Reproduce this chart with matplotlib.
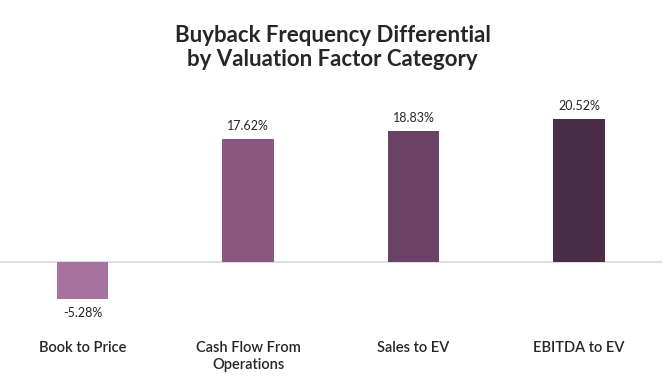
import matplotlib.pyplot as plt

categories = ['Book to Price', 'Cash Flow From\nOperations', 'Sales to EV', 'EBITDA to EV']
values = [-5.28, 17.62, 18.83, 20.52]
colors = ['#A673A0', '#8A5682', '#6A4265', '#4B2D47']

plt.rcParams['font.family'] = ['Lato', 'DejaVu Sans']

fig = plt.figure(figsize=(6.65, 3.92), dpi=100)
ax = fig.add_axes([0.0, 0.207, 0.995, 0.551])

x = range(len(categories))
bars = ax.bar(x, values, width=0.31, color=colors, zorder=2)
ax.axhline(0, color='#D9D9D9', linewidth=1.2, zorder=1)

for b, v in zip(bars, values):
    if v >= 0:
        ax.annotate(f'{v:.2f}%', (b.get_x() + b.get_width() / 2, v), xytext=(0, 5),
                    textcoords='offset points', ha='center', va='bottom', fontsize=9, color='#262626')
    else:
        ax.annotate(f'{v:.2f}%', (b.get_x() + b.get_width() / 2, v), xytext=(0, -6),
                    textcoords='offset points', ha='center', va='top', fontsize=9, color='#262626')

ax.set_xlim(-0.5, 3.5)
ax.set_ylim(-7, 24)
ax.set_xticks(list(x))
ax.set_xticklabels(categories, fontsize=10.5, fontweight='semibold', color='#262626', linespacing=1.25)
ax.tick_params(axis='x', length=0, pad=22)
ax.set_yticks([])
for s in ax.spines.values():
    s.set_visible(False)

fig.text(0.5, 0.879, 'Buyback Frequency Differential\nby Valuation Factor Category', ha='center', va='center',
         fontsize=16, fontweight='bold', color='#262626', linespacing=1.15)

fig.savefig('out.png', dpi=100)
